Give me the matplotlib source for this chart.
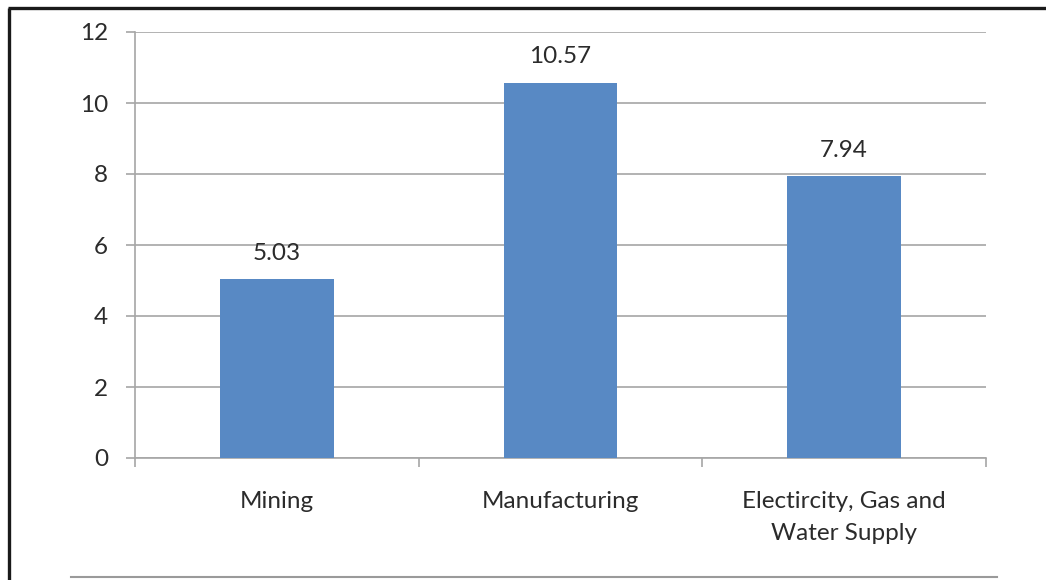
import matplotlib
matplotlib.use("Agg")
import matplotlib.pyplot as plt
from matplotlib.lines import Line2D

# sector values
sectors = ["Mining", "Manufacturing", "Electircity, Gas and\nWater Supply"]
values = [5.03, 10.57, 7.94]
value_labels = ["5.03", "10.57", "7.94"]
y_ticks = [0, 2, 4, 6, 8, 10, 12]

W, H = 1046, 580
plt.rcParams["font.family"] = ["Lato", "DejaVu Sans"]
text_col = "#2b2b2b"
grid_col = "#a6a6a6"
fs = 17.5

fig = plt.figure(figsize=(W / 100, H / 100), dpi=100)
ax = fig.add_axes([135 / W, (H - 458) / H, (986 - 135) / W, (458 - 32) / H])

x = list(range(len(sectors)))
ax.bar(x, values, width=0.4, color="#5889c4", zorder=3)
for xi, v, lab in zip(x, values, value_labels):
    ax.annotate(lab, (xi, v), xytext=(0, 14), textcoords="offset points",
                ha="center", va="baseline", fontsize=fs, color=text_col)

ax.set_xlim(-0.5, 2.5)
ax.set_ylim(0, 12)
ax.set_yticks(y_ticks)
ax.set_yticklabels([str(t) for t in y_ticks], fontsize=fs, color=text_col)
ax.yaxis.grid(True, color=grid_col, linewidth=1.2, zorder=0)

# category boundaries get the tick marks, labels sit at centres
ax.set_xticks([-0.5, 0.5, 1.5, 2.5])
ax.set_xticklabels([])
ax.set_xticks(x, minor=True)
ax.set_xticklabels(sectors, minor=True, fontsize=fs, color=text_col,
                   linespacing=1.6, va="top")
ax.tick_params(axis="x", which="major", length=6.5, width=1.2, color=grid_col)
ax.tick_params(axis="x", which="minor", length=0, pad=24)
ax.tick_params(axis="y", length=6.5, width=1.2, color=grid_col, pad=13)

for s in ["top", "right"]:
    ax.spines[s].set_visible(False)
for s in ["left", "bottom"]:
    ax.spines[s].set_color(grid_col)
    ax.spines[s].set_linewidth(1.2)

# frame lines around the chart
fig.add_artist(Line2D([9 / W, 9 / W], [0, (H - 8) / H], color="#1a1a1a",
                      linewidth=2.4, solid_capstyle="butt"))
fig.add_artist(Line2D([8 / W, 1], [(H - 8) / H, (H - 8) / H], color="#1a1a1a",
                      linewidth=2.4, solid_capstyle="butt"))
fig.add_artist(Line2D([71 / W, 997 / W], [3 / H, 3 / H], color="#9a9a9a",
                      linewidth=1.5))

fig.savefig("out.png", dpi=100)
